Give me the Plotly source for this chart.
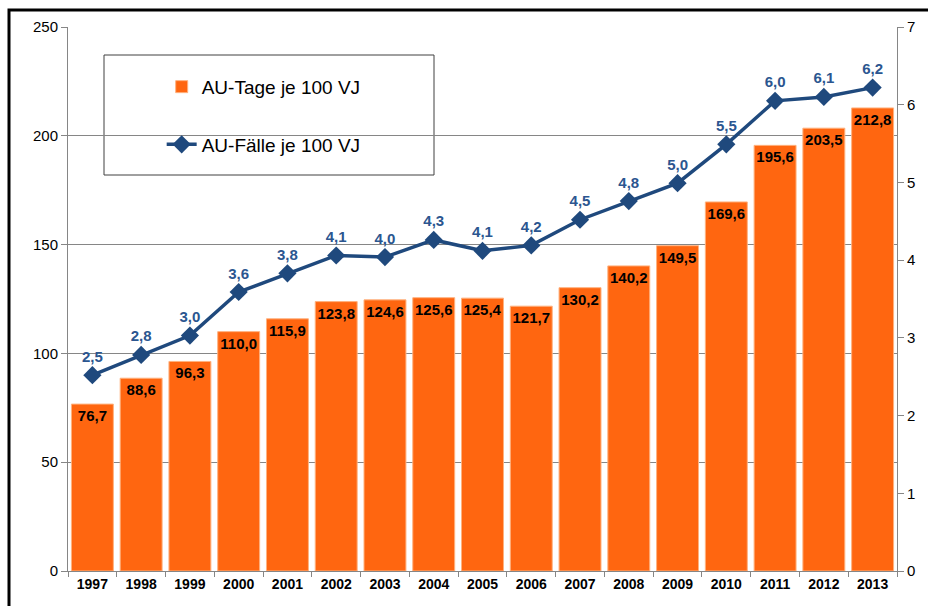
import plotly.graph_objects as go

years = ["1997", "1998", "1999", "2000", "2001", "2002", "2003", "2004", "2005",
         "2006", "2007", "2008", "2009", "2010", "2011", "2012", "2013"]
au_tage = [76.7, 88.6, 96.3, 110.0, 115.9, 123.8, 124.6, 125.6, 125.4,
           121.7, 130.2, 140.2, 149.5, 169.6, 195.6, 203.5, 212.8]
au_faelle = [2.52, 2.78, 3.03, 3.59, 3.83, 4.06, 4.04, 4.26, 4.12,
             4.19, 4.52, 4.76, 4.99, 5.49, 6.05, 6.10, 6.22]

FONT = "Arial, Liberation Sans, sans-serif"
ORANGE = "#FF6610"
BLUE = "#1F497D"

def de(v):
    return f"{v:.1f}".replace(".", ",")

fig = go.Figure()
fig.add_trace(go.Bar(
    x=years, y=au_tage, name="AU-Tage je 100 VJ", legendgroup="a",
    marker=dict(color=ORANGE, line=dict(color="#FFB27F", width=1)),
    text=[de(v) for v in au_tage], textposition="inside", insidetextanchor="end",
    constraintext="none", textangle=0,
    textfont=dict(family=FONT, size=15, color="black", weight="bold"),
    yaxis="y",
))
fig.add_trace(go.Scatter(
    x=years, y=au_faelle, name="AU-Fälle je 100 VJ", legendgroup="b",
    mode="lines+markers+text",
    line=dict(color=BLUE, width=3.5),
    marker=dict(symbol="diamond", size=14, color=BLUE),
    text=[de(v) for v in au_faelle], textposition="top center",
    textfont=dict(family=FONT, size=15, color="#2B5690", weight="bold"),
    yaxis="y2",
))

fig.update_layout(
    width=928, height=606,
    margin=dict(l=68, r=31, t=27, b=35),
    paper_bgcolor="white", plot_bgcolor="white",
    bargap=0.14,
    showlegend=True,
    legend=dict(x=0.113, y=0.925, xanchor="left", yanchor="top",
                bgcolor="rgba(0,0,0,0)", borderwidth=0,
                font=dict(family=FONT, size=19, color="black"),
                tracegroupgap=30, traceorder="grouped"),
    xaxis=dict(type="category", range=[-0.5, 16.5], autorange=False,
               showgrid=False, showline=True, linecolor="#868686",
               ticks="outside", tickson="boundaries", ticklen=5, tickcolor="#868686",
               tickfont=dict(family=FONT, size=14, color="black", weight="bold")),
    yaxis=dict(range=[0, 250], dtick=50, showgrid=True, gridcolor="#868686",
               showline=True, linecolor="#868686", ticks="outside", ticklen=6,
               tickcolor="#868686", tickfont=dict(family=FONT, size=15, color="black"),
               zeroline=False),
    yaxis2=dict(range=[0, 7], dtick=1, overlaying="y", side="right", showgrid=False,
                showline=True, linecolor="#868686", ticks="outside", ticklen=6,
                tickcolor="#868686", tickfont=dict(family=FONT, size=15, color="black"),
                zeroline=False),
    shapes=[
        dict(type="rect", xref="paper", yref="paper",
             x0=(104 - 68) / 829, x1=(434 - 68) / 829,
             y0=(571 - 175) / 544, y1=(571 - 55) / 544,
             line=dict(color="#404040", width=1), fillcolor="white", layer="below"),
        dict(type="rect", xref="paper", yref="paper",
             x0=(9 - 68) / 829, x1=1.2, y0=-0.3, y1=(571 - 10) / 544,
             line=dict(color="black", width=3), layer="above"),
    ],
)

fig.write_html("out.html", config={"displayModeBar": False},
               post_script="document.body.style.margin='0';document.body.style.overflow='hidden';")
